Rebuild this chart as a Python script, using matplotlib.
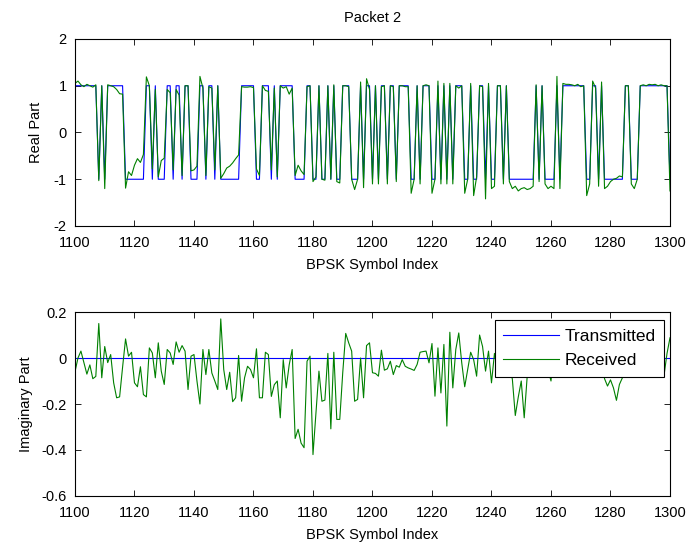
import numpy as np
import matplotlib
matplotlib.use("Agg")
import matplotlib.pyplot as plt
from matplotlib.ticker import FuncFormatter

plt.rcParams['font.family'] = ['Liberation Sans', 'DejaVu Sans']
plt.rcParams['axes.unicode_minus'] = False

symbol_start = 1100
symbol_end = 1300

tx_bits = [
    1, 1, 1, 1, 1, 1, 1, 1, -1, 1,
    -1, 1, 1, 1, 1, 1, 1, -1, -1, -1,
    -1, -1, -1, -1, 1, 1, -1, 1, -1, -1,
    -1, 1, 1, -1, 1, 1, -1, 1, 1, -1,
    -1, -1, 1, 1, -1, 1, 1, -1, 1, -1,
    -1, -1, -1, -1, -1, -1, 1, 1, 1, 1,
    1, -1, -1, 1, 1, 1, -1, 1, -1, 1,
    1, 1, 1, 1, -1, -1, -1, -1, 1, 1,
    -1, -1, 1, -1, -1, 1, -1, 1, -1, -1,
    1, 1, 1, -1, -1, -1, 1, -1, 1, 1,
    -1, 1, -1, 1, 1, -1, 1, 1, -1, 1,
    1, 1, 1, -1, -1, 1, -1, 1, 1, 1,
    -1, -1, 1, -1, 1, -1, 1, -1, 1, 1,
    1, -1, -1, 1, -1, -1, 1, 1, -1, 1,
    -1, -1, 1, 1, -1, 1, -1, -1, -1, -1,
    -1, -1, -1, -1, -1, 1, -1, 1, -1, -1,
    -1, -1, 1, -1, 1, 1, 1, 1, 1, 1,
    1, 1, -1, -1, 1, 1, -1, 1, -1, -1,
    -1, -1, -1, -1, -1, 1, 1, -1, -1, -1,
    1, 1, 1, 1, 1, 1, 1, 1, 1, 1,
    -1,
]

rx_real = [
    1.05, 1.1, 1.02, 0.98, 1.03, 1.0, 0.97, 1.02, -1.03, 1.0,
    -1.2, 1.02, 1.0, 0.98, 0.92, 0.83, 0.82, -1.19, -0.84, -0.92,
    -0.7, -0.56, -0.64, -0.47, 1.19, 1.0, -0.78, 0.92, -0.95, -0.6,
    -0.55, 0.92, 0.85, -0.8, 0.92, 0.8, -0.92, 1.0, 1.0, -0.82,
    -0.8, -0.72, 1.2, 0.95, -0.92, 0.98, 0.95, -0.8, 1.0, -0.98,
    -0.88, -0.76, -0.72, -0.65, -0.56, -0.48, 0.98, 0.97, 0.97, 0.98,
    0.96, -0.78, -0.92, 1.0, 0.9, 0.88, -0.8, 0.95, -0.95, 1.0,
    0.95, 0.98, 0.82, 0.95, -0.92, -0.7, -0.82, -0.9, 0.98, 1.0,
    -1.05, -0.95, 1.0, -1.0, -1.02, 1.0, -1.0, 1.02, -1.05, -1.08,
    1.0, 1.0, 0.98, -1.0, -1.22, -1.0, 1.08, -1.18, 1.15, 0.92,
    -1.1, 1.0, -1.1, 0.98, 1.0, -1.1, 1.0, 0.98, -1.05, 1.0,
    1.0, 0.98, 0.98, -1.3, -1.0, 1.0, -1.1, 1.0, 1.02, 1.0,
    -1.3, -1.0, 1.1, -1.1, 1.05, -1.1, 1.05, -1.1, 1.0, 0.95,
    1.0, -1.3, -1.0, 1.05, -1.35, -0.95, 1.0, 0.98, -1.42, 1.05,
    -1.2, -1.15, 1.0, 1.0, -1.1, 1.0, -1.05, -1.2, -1.15, -1.25,
    -1.2, -1.18, -1.22, -1.2, -1.15, 1.02, -1.05, 1.0, -1.1, -1.2,
    -1.15, -1.2, 1.2, -1.2, 1.05, 1.03, 1.03, 1.02, 1.0, 1.03,
    0.98, 1.0, -1.35, -1.1, 1.1, 0.95, -1.15, 1.08, -1.2, -1.15,
    -1.05, -1.0, -0.98, -0.93, -0.95, 1.0, 1.0, -1.1, -1.2, -1.0,
    1.0, 1.02, 1.0, 1.03, 1.02, 1.03, 1.0, 1.02, 1.0, 1.0,
    -1.25,
]

rx_imag = [
    -0.06, 0.0, 0.03, -0.02, -0.07, -0.03, -0.09, -0.08, 0.15, -0.086,
    0.05, -0.02, 0.015, -0.108, -0.173, -0.169, -0.04, 0.083, 0.008, 0.025,
    -0.108, -0.125, -0.038, -0.159, -0.169, 0.044, 0.022, -0.086, 0.066, -0.057,
    -0.115, 0.037, 0.022, -0.028, 0.07, 0.025, 0.054, 0.03, -0.137, 0.008,
    0.015, -0.1, -0.2, 0.037, -0.072, 0.037, -0.065, -0.1, -0.137, 0.17,
    -0.05, -0.137, -0.062, -0.19, -0.173, 0.011, -0.188, -0.086, -0.036, -0.05,
    -0.086, 0.04, -0.173, -0.173, 0.025, 0.015, -0.167, -0.116, -0.1, -0.26,
    -0.007, -0.13, -0.03, 0.037, -0.35, -0.31, -0.37, -0.39, -0.014, 0.008,
    -0.42, -0.24, -0.057, -0.188, -0.183, 0.02, -0.308, 0.025, -0.267, -0.267,
    -0.064, 0.107, 0.066, 0.03, -0.188, -0.18, 0.0, -0.173, 0.054, 0.066,
    -0.064, -0.067, -0.079, 0.034, -0.053, -0.047, -0.014, -0.072, -0.033, -0.04,
    -0.007, -0.036, -0.043, -0.048, -0.054, -0.028, 0.025, 0.028, 0.03, -0.021,
    0.063, -0.166, 0.044, -0.152, 0.059, -0.296, 0.112, -0.13, 0.037, 0.109,
    -0.021, -0.125, -0.05, 0.025, -0.007, -0.079, 0.1, 0.05, -0.057, 0.03,
    -0.108, 0.02, -0.05, 0.04, -0.03, 0.06, -0.06, -0.09, -0.25, -0.17,
    -0.1, -0.26, -0.08, 0.05, -0.02, 0.03, 0.07, -0.04, 0.02, -0.05,
    -0.1, 0.04, -0.03, 0.05, 0.0, -0.06, 0.03, 0.06, -0.02, 0.01,
    0.04, -0.05, 0.02, 0.05, -0.03, 0.03, -0.04, 0.02, -0.09, -0.122,
    -0.095, -0.13, -0.184, -0.115, -0.086, 0.03, -0.04, 0.05, 0.0, -0.03,
    0.06, 0.02, -0.05, 0.04, -0.02, 0.03, -0.04, -0.02, -0.075, 0.02,
    0.088,
]

x_ticks = [1100, 1120, 1140, 1160, 1180, 1200, 1220, 1240, 1260, 1280, 1300]
real_yticks = [-2, -1, 0, 1, 2]
imag_yticks = [-0.6, -0.4, -0.2, 0, 0.2]

x = np.arange(symbol_start, symbol_end + 1)
tx_real = np.array(tx_bits, dtype=float)
tx_imag = np.zeros_like(tx_real)

BLUE = (0, 0, 1)
GREEN = (0, 0.5, 0)
FS = 10.5

fig = plt.figure(figsize=(6.93, 5.5), dpi=100)
ax1 = fig.add_axes([0.1082, 0.5891, 0.8586, 0.340])
ax2 = fig.add_axes([0.1082, 0.0982, 0.8586, 0.3345])

fmt = FuncFormatter(lambda v, p: ('%g' % round(v, 6)))

def style(ax):
    ax.tick_params(direction='in', top=True, right=True, length=4, width=0.6,
                   labelsize=FS)
    ax.tick_params(axis='x', pad=7)
    ax.tick_params(axis='y', pad=6)
    for s in ax.spines.values():
        s.set_linewidth(0.8)
        s.set_color('black')
    ax.set_xlim(symbol_start, symbol_end)
    ax.set_xticks(x_ticks)
    ax.yaxis.set_major_formatter(fmt)
    ax.set_xlabel('BPSK Symbol Index', fontsize=FS, labelpad=6)

ax1.plot(x, tx_real, color=BLUE, lw=0.8, label='Transmitted')
ax1.plot(x, rx_real, color=GREEN, lw=0.8, label='Received')
style(ax1)
ax1.set_ylim(-2, 2)
ax1.set_yticks(real_yticks)
ax1.set_ylabel('Real Part', fontsize=FS, labelpad=8)
ax1.set_title('Packet 2', fontsize=FS, pad=12)

ax2.plot(x, tx_imag, color=BLUE, lw=0.8, label='Transmitted')
ax2.plot(x, rx_imag, color=GREEN, lw=0.8, label='Received')
style(ax2)
ax2.set_ylim(-0.6, 0.2)
ax2.set_yticks(imag_yticks)
ax2.set_ylabel('Imaginary Part', fontsize=FS, labelpad=6)

leg = ax2.legend(loc='upper right', bbox_to_anchor=(0.99, 0.957), fontsize=12.5,
                 frameon=True, fancybox=False, edgecolor='black', framealpha=1,
                 handlelength=3.2, handletextpad=0.3, borderpad=0.5,
                 labelspacing=0.55, borderaxespad=0)
leg.get_frame().set_linewidth(0.8)

fig.savefig('out.png', dpi=100)
